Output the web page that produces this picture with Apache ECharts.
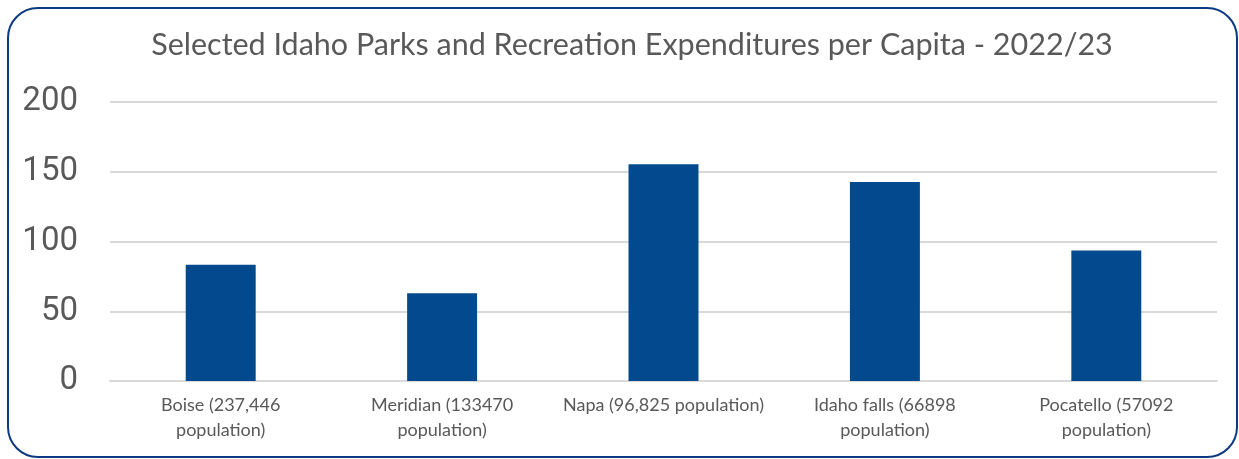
<!DOCTYPE html>
<html><head><meta charset="utf-8">
<script src="https://cdn.jsdelivr.net/npm/echarts@6/dist/echarts.min.js"></script>
<style>html,body{margin:0;padding:0;background:#fff}#c{width:1239px;height:459px}</style>
</head><body><div id="c"></div>
<script>
const titleText = 'Selected Idaho Parks and Recreation Expenditures per Capita - 2022/23';
const categories = ['Boise (237,446\npopulation)', 'Meridian (133470\npopulation)', 'Napa (96,825 population)', 'Idaho falls (66898\npopulation)', 'Pocatello (57092\npopulation)'];
const values = [83.4, 62.9, 155.3, 142.7, 93.6];
const yTicks = [0, 50, 100, 150, 200];

const chart = echarts.init(document.getElementById('c'), null, {renderer: 'canvas'});
chart.setOption({
  animation: false,
  backgroundColor: '#fff',
  graphic: [{
    type: 'rect', shape: {x: 8, y: 8, width: 1229, height: 449, r: 30},
    style: {fill: 'none', stroke: '#0b3a82', lineWidth: 2}, z: 100
  }],
  title: {
    text: titleText, left: 627, top: 25, textAlign: 'center',
    textStyle: {fontFamily: 'Lato', fontWeight: 'normal', fontSize: 30.5, color: '#595959'}
  },
  grid: {left: 110, right: 22, top: 102, bottom: 78, containLabel: false},
  xAxis: {
    type: 'category', data: categories,
    axisLine: {lineStyle: {color: '#d9d9d9', width: 2}},
    axisTick: {show: false},
    axisLabel: {color: '#595959', fontSize: 18, fontFamily: 'Lato', lineHeight: 25, margin: 12, interval: 0}
  },
  yAxis: {
    type: 'value', min: yTicks[0], max: yTicks[yTicks.length - 1], interval: 50,
    axisLine: {show: false}, axisTick: {show: false},
    splitLine: {lineStyle: {color: '#d9d9d9', width: 2}},
    axisLabel: {color: '#595959', fontSize: 33, fontFamily: 'Roboto', margin: 32}
  },
  series: [{
    type: 'bar', data: values, barWidth: '31.6%',
    itemStyle: {color: '#024a8d'}
  }]
});
</script></body></html>
